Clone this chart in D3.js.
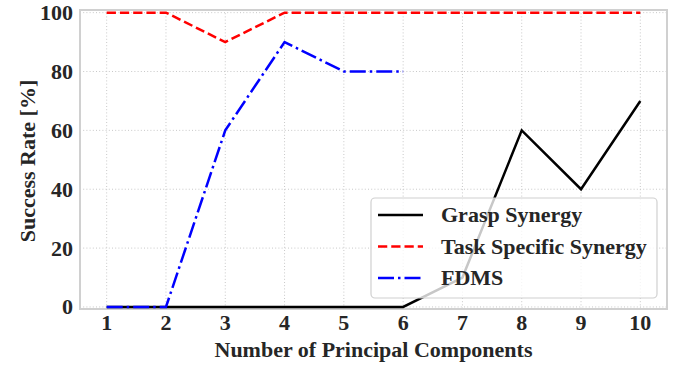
<!DOCTYPE html>
<html lang="en">
<head>
<meta charset="UTF-8">
<title>Success Rate vs Principal Components</title>
<style>
html, body { margin: 0; padding: 0; background: #fff; }
svg { display: block; }
svg text { font-family: "Times New Roman", "Liberation Serif", Times, "DejaVu Serif", serif; font-weight: 700; }
.grid line { stroke: #c8c8c8; stroke-width: 1; stroke-dasharray: 1,2.2; }
.tick-label { fill: #262626; font-size: 22px; }
.axis-title { fill: #262626; font-size: 22px; }
.legend text { fill: #262626; font-size: 22px; }
</style>
</head>
<body>
<svg width="675" height="366"></svg>
<script src="https://cdnjs.cloudflare.com/ajax/libs/d3/7.8.5/d3.min.js"></script>
<script>
// components on the x axis
const components = [1, 2, 3, 4, 5, 6, 7, 8, 9, 10];
const graspSynergy = [0, 0, 0, 0, 0, 0, 10, 60, 40, 70];
const taskSynergy = [100, 100, 90, 100, 100, 100, 100, 100, 100, 100];
const fdms = [0, 0, 60, 90, 80, 80];
const yTicks = [0, 20, 40, 60, 80, 100];

const series = [
  { name: 'Grasp Synergy', values: graspSynergy, color: '#000', dash: null },
  { name: 'Task Specific Synergy', values: taskSynergy, color: '#ff0000', dash: '9.25,4' },
  { name: 'FDMS', values: fdms, color: '#0000ff', dash: '16,4,2.5,4' }
];

const svg = d3.select('svg');
const plotL = 80, plotR = 667, plotT = 10, plotB = 309;

const x = d3.scaleLinear().domain([0.55, 10.45]).range([plotL, plotR]);
const y = d3.scaleLinear().domain([-0.7, 100.9]).range([plotB, plotT]);

// grid
const grid = svg.append('g').attr('class', 'grid');
grid.selectAll('.gy').data(yTicks).enter().append('line')
  .attr('x1', plotL).attr('x2', plotR)
  .attr('y1', d => y(d)).attr('y2', d => y(d));
grid.selectAll('.gx').data(components).enter().append('line')
  .attr('y1', plotT).attr('y2', plotB)
  .attr('x1', d => x(d)).attr('x2', d => x(d));

// frame
svg.append('rect')
  .attr('x', plotL).attr('y', plotT)
  .attr('width', plotR - plotL).attr('height', plotB - plotT)
  .attr('fill', 'none').attr('stroke', '#d0d0d0').attr('stroke-width', 2);

// tick labels
svg.selectAll('.ylab').data(yTicks).enter().append('text')
  .attr('class', 'tick-label')
  .attr('x', plotL - 7).attr('y', d => y(d))
  .attr('dy', '0.34em').attr('text-anchor', 'end')
  .text(d => d);
svg.selectAll('.xlab').data(components).enter().append('text')
  .attr('class', 'tick-label')
  .attr('x', d => x(d)).attr('y', 330)
  .attr('text-anchor', 'middle')
  .text(d => d);

svg.append('text').attr('class', 'axis-title')
  .attr('x', (plotL + plotR) / 2).attr('y', 357)
  .attr('text-anchor', 'middle')
  .text('Number of Principal Components');
svg.append('text').attr('class', 'axis-title')
  .attr('transform', 'translate(35,161) rotate(-90)')
  .attr('text-anchor', 'middle')
  .text('Success Rate [%]');

// lines
const line = d3.line().x((d, i) => x(components[i])).y(d => y(d));
svg.selectAll('.series').data(series).enter().append('path')
  .attr('d', d => line(d.values))
  .attr('fill', 'none')
  .attr('stroke', d => d.color)
  .attr('stroke-width', 2.5)
  .attr('stroke-dasharray', d => d.dash);

// legend
const legend = svg.append('g').attr('class', 'legend');
legend.append('rect')
  .attr('x', 371).attr('y', 198).attr('width', 286).attr('height', 100)
  .attr('rx', 4)
  .attr('fill', '#fff').attr('fill-opacity', 0.78)
  .attr('stroke', '#d0d0d0').attr('stroke-width', 1.2);
const rows = legend.selectAll('.row').data(series).enter().append('g')
  .attr('transform', (d, i) => 'translate(0,' + (215 + i * 31.5) + ')');
rows.append('line')
  .attr('x1', 378).attr('x2', 423)
  .attr('stroke', d => d.color).attr('stroke-width', 2.5)
  .attr('stroke-dasharray', d => d.dash);
rows.append('text')
  .attr('x', 441).attr('dy', '0.34em')
  .text(d => d.name);
</script>
</body>
</html>
